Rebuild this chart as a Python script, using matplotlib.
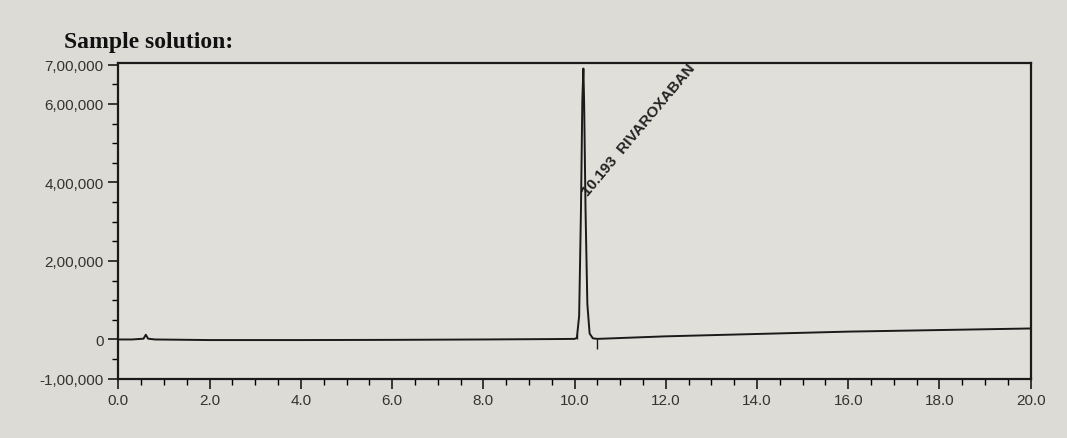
import matplotlib.pyplot as plt
from matplotlib.ticker import FuncFormatter, MultipleLocator

# chromatogram trace (min, signal)
time = [0.0, 0.3, 0.55, 0.6, 0.65, 0.8, 2.0, 4.0, 6.0, 8.0, 9.5, 10.0,
        10.05, 10.10, 10.14, 10.17, 10.193, 10.21, 10.24, 10.28, 10.33,
        10.40, 10.5, 12.0, 14.0, 16.0, 18.0, 20.0]
signal = [0, 0, 2000, 12000, 2000, 0, -1500, -1500, -1000, 0, 1000, 1500,
          4000, 60000, 330000, 610000, 690000, 600000, 330000, 90000, 15000,
          3000, 1500, 8000, 14000, 20000, 24000, 28000]

peak_time = 10.193
peak_name = "RIVAROXABAN"
peak_start = 10.05
peak_end = 10.5

yticks = [-100000, 0, 200000, 400000, 600000, 700000]


def indian(v, pos=None):
    v = int(round(v))
    if v == 0:
        return "0"
    s = str(abs(v))
    last3 = s[-3:]
    rest = s[:-3]
    parts = []
    while len(rest) > 2:
        parts.insert(0, rest[-2:])
        rest = rest[:-2]
    if rest:
        parts.insert(0, rest)
    out = ",".join(parts + [last3])
    return ("-" if v < 0 else "") + out


plt.rcParams["font.family"] = ["Liberation Sans", "DejaVu Sans"]

fig = plt.figure(figsize=(10.67, 4.39), dpi=100, facecolor="#dcdbd6")
ax = fig.add_axes([0.111, 0.135, 0.855, 0.72])
ax.set_facecolor("#e0dfda")

ax.plot(time, signal, color="#1a1a1a", lw=1.4)

# integration marks
ax.vlines(peak_start, 0, 15000, color="#1a1a1a", lw=1)
ax.vlines(peak_end, -25000, 2000, color="#1a1a1a", lw=1)

ax.text(peak_time + 0.15, 360000, f"{peak_time:.3f}  {peak_name}",
        rotation=50, rotation_mode="anchor", ha="left", va="bottom",
        fontsize=11, fontweight="bold", color="#222222")

ax.set_xlim(0, 20)
ax.set_ylim(-100000, 705000)
ax.set_yticks(yticks)
ax.yaxis.set_major_formatter(FuncFormatter(indian))
ax.yaxis.set_minor_locator(MultipleLocator(50000))
ax.xaxis.set_major_locator(MultipleLocator(2))
ax.xaxis.set_minor_locator(MultipleLocator(0.5))
ax.xaxis.set_major_formatter(FuncFormatter(lambda v, p: f"{v:.1f}"))

for s in ax.spines.values():
    s.set_linewidth(1.6)
    s.set_color("#1a1a1a")
ax.tick_params(axis="both", which="major", length=7, width=1.2,
               labelsize=11, colors="#1a1a1a", labelcolor="#333333")
ax.tick_params(axis="both", which="minor", length=4, width=1)

fig.text(0.06, 0.89, "Sample solution:", fontsize=17, fontweight="bold",
         family="Liberation Serif", color="#111111")

plt.savefig("out.png", dpi=100, facecolor=fig.get_facecolor())
